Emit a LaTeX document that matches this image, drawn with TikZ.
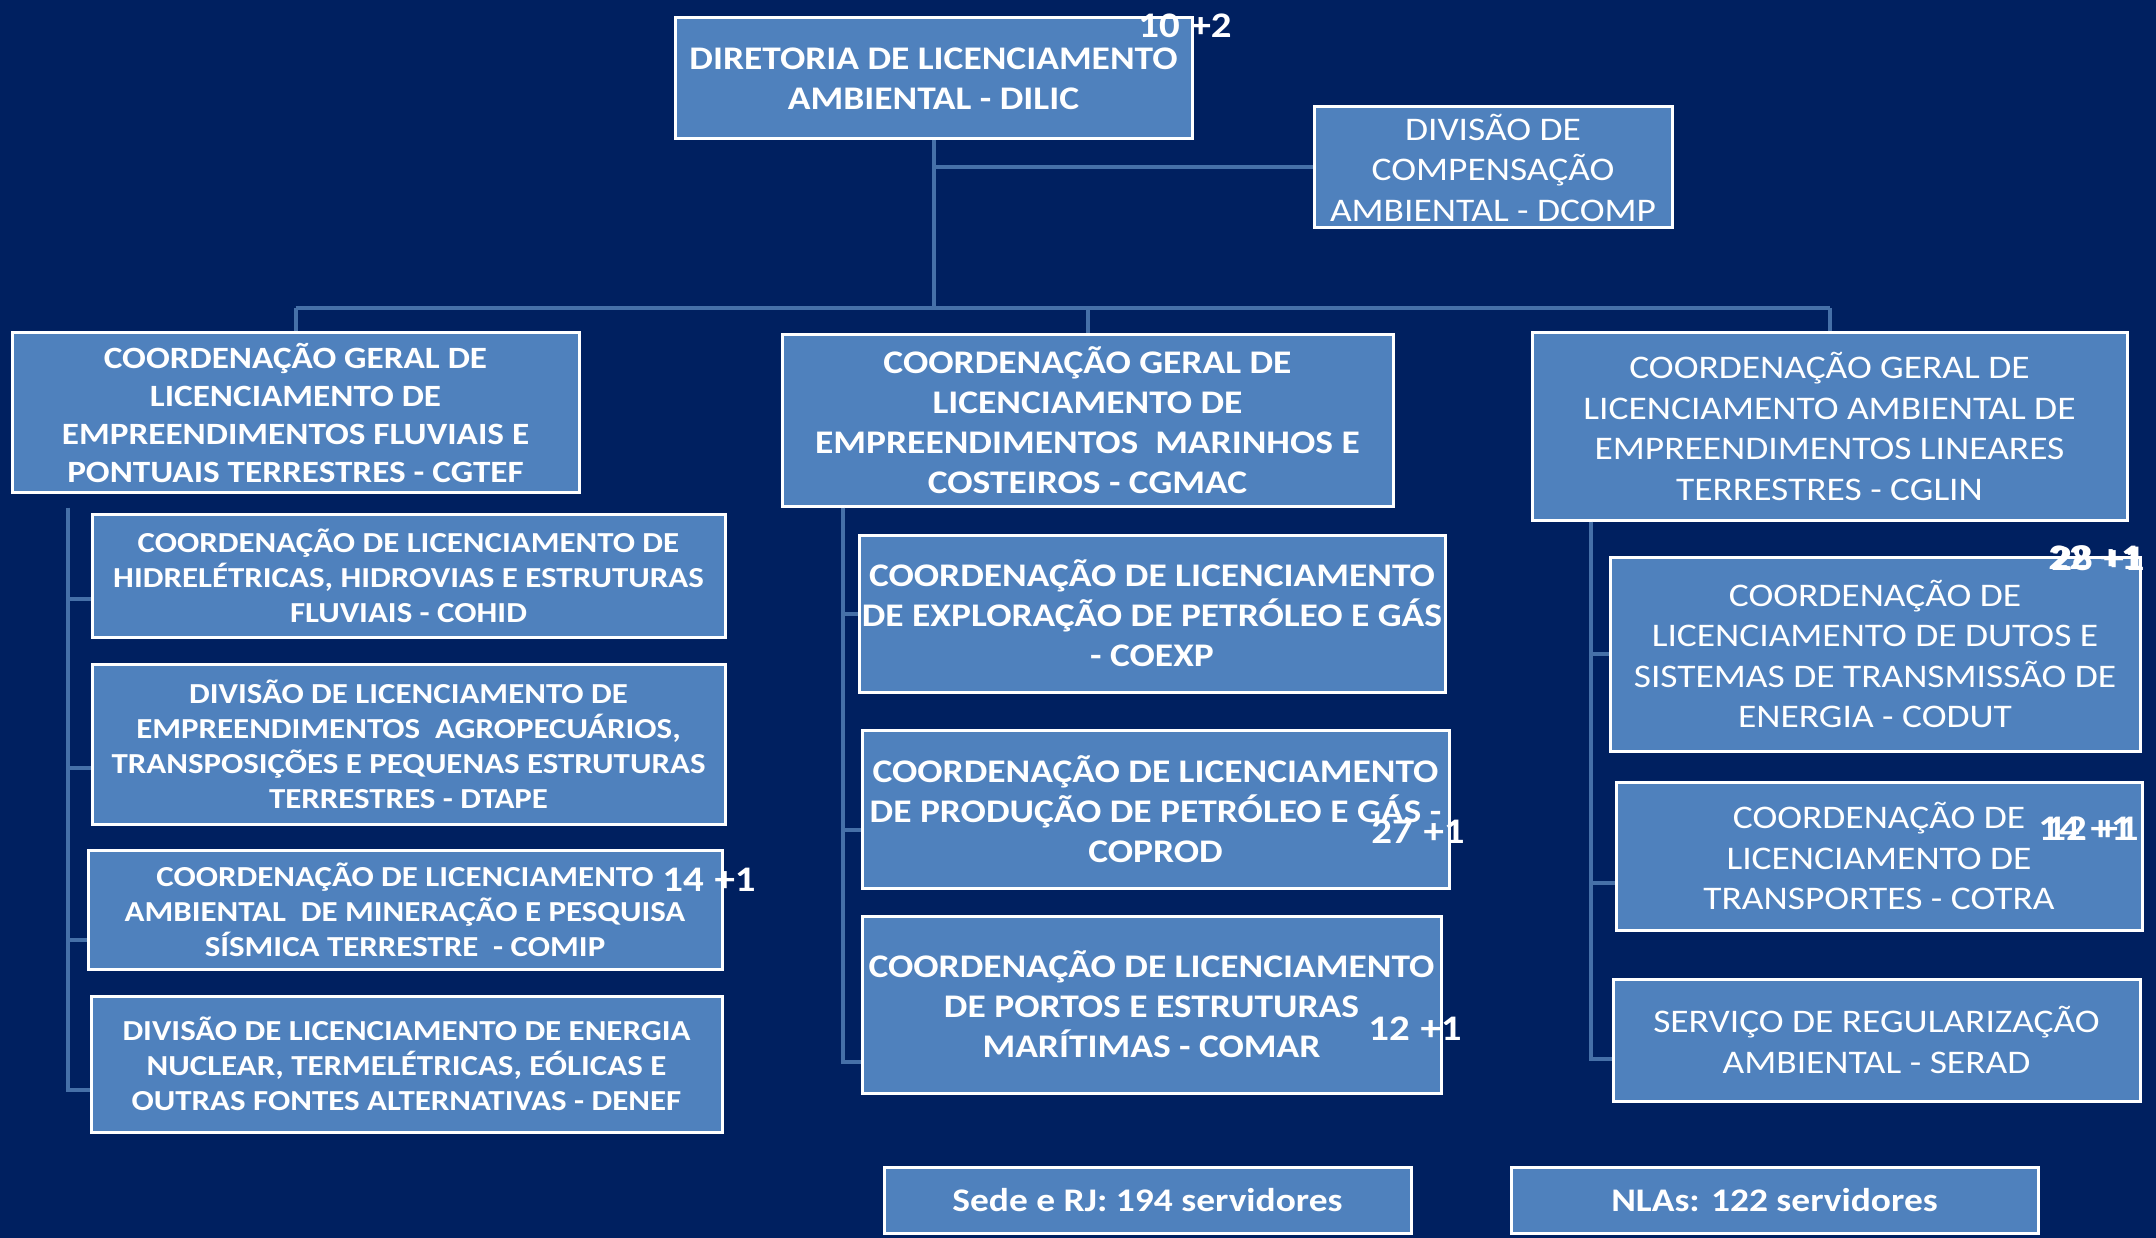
\documentclass[tikz,border=0pt]{standalone}
\usepackage{fontspec}
\setmainfont{Carlito}[FakeStretch=1.135]
\usetikzlibrary{positioning,calc}

\definecolor{bgnavy}{HTML}{002060}
\definecolor{boxblue}{HTML}{4F81BD}
\definecolor{linkblue}{HTML}{4670A8}

\tikzset{
  orgbox/.style={draw=white, line width=3pt, fill=boxblue, text=white,
    align=center, inner sep=0pt},
  bigbold/.style={font=\bfseries\fontsize{33}{40}\selectfont},
  midbold/.style={font=\bfseries\fontsize{31}{38}\selectfont},
  smallbold/.style={font=\bfseries\fontsize{29}{35}\selectfont},
  plain/.style={font=\fontsize{33}{40.5}\selectfont},
  staff/.style={text=white, inner sep=0pt, font=\bfseries\fontsize{36}{36}\selectfont},
  link/.style={draw=linkblue, line width=4pt},
}

\begin{document}
\begin{tikzpicture}[x=1pt, y=-1pt]

\newcommand\SPX{57pt}
\newcommand\NUMGAP{\hspace{.3em}}

\fill[bgnavy] (0,0) rectangle (2156,1238);
\useasboundingbox (0,0) rectangle (2156,1238);

%% top
\node[orgbox, bigbold, minimum width=517pt, minimum height=121pt] (dilic) at (933.5,78.5)
  {DIRETORIA DE LICENCIAMENTO\\AMBIENTAL - DILIC};
\node[orgbox, plain, minimum width=358pt, minimum height=121pt] (dcomp) at (1493,167.5)
  {DIVISÃO DE\\COMPENSAÇÃO\\AMBIENTAL - DCOMP};

%% general coordinations
\node[orgbox, midbold, minimum width=567pt, minimum height=159pt] (cgtef) at (295.5,412.5)
  {COORDENAÇÃO GERAL DE\\LICENCIAMENTO DE\\EMPREENDIMENTOS FLUVIAIS E\\PONTUAIS TERRESTRES - CGTEF};
\node[orgbox, bigbold, minimum width=611pt, minimum height=171pt] (cgmac) at (1087.5,420.5)
  {COORDENAÇÃO GERAL DE\\LICENCIAMENTO DE\\EMPREENDIMENTOS~ MARINHOS E\\COSTEIROS - CGMAC};
\node[orgbox, plain, minimum width=595pt, minimum height=187pt] (cglin) at (1829.5,426.5)
  {COORDENAÇÃO GERAL DE\\LICENCIAMENTO AMBIENTAL DE\\EMPREENDIMENTOS LINEARES\\TERRESTRES - CGLIN};

%% left column
\node[orgbox, smallbold, minimum width=633pt, minimum height=123pt] (cohid) at (408.5,575.5)
  {COORDENAÇÃO DE LICENCIAMENTO DE\\HIDRELÉTRICAS, HIDROVIAS E ESTRUTURAS\\FLUVIAIS - COHID};
\node[orgbox, smallbold, minimum width=633pt, minimum height=160pt] (dtape) at (408.5,744)
  {DIVISÃO DE LICENCIAMENTO DE\\EMPREENDIMENTOS~ AGROPECUÁRIOS,\\TRANSPOSIÇÕES E PEQUENAS ESTRUTURAS\\TERRESTRES - DTAPE};
\node[orgbox, smallbold, minimum width=634pt, minimum height=119pt] (comip) at (405,909.5)
  {COORDENAÇÃO DE LICENCIAMENTO\\AMBIENTAL~ DE MINERAÇÃO E PESQUISA\\SÍSMICA TERRESTRE~ - COMIP};
\node[orgbox, smallbold, minimum width=631pt, minimum height=136pt] (denef) at (406.5,1064)
  {DIVISÃO DE LICENCIAMENTO DE ENERGIA\\NUCLEAR, TERMELÉTRICAS, EÓLICAS E\\OUTRAS FONTES ALTERNATIVAS - DENEF};

%% middle column
\node[orgbox, bigbold, minimum width=586pt, minimum height=157pt] (coexp) at (1152,613.5)
  {COORDENAÇÃO DE LICENCIAMENTO\\DE EXPLORAÇÃO DE PETRÓLEO E GÁS\\- COEXP};
\node[orgbox, bigbold, minimum width=587pt, minimum height=158pt] (coprod) at (1155.5,809)
  {COORDENAÇÃO DE LICENCIAMENTO\\DE PRODUÇÃO DE PETRÓLEO E GÁS -\\COPROD};
\node[orgbox, bigbold, minimum width=579pt, minimum height=177pt] (comar) at (1151.5,1004.5)
  {COORDENAÇÃO DE LICENCIAMENTO\\DE PORTOS E ESTRUTURAS\\MARÍTIMAS - COMAR};

%% right column
\node[orgbox, plain, minimum width=530pt, minimum height=194pt] (codut) at (1875,654)
  {COORDENAÇÃO DE\\LICENCIAMENTO DE DUTOS E\\SISTEMAS DE TRANSMISSÃO DE\\ENERGIA - CODUT};
\node[orgbox, plain, minimum width=526pt, minimum height=148pt] (cotra) at (1879,856)
  {COORDENAÇÃO DE\\LICENCIAMENTO DE\\TRANSPORTES - COTRA};
\node[orgbox, plain, minimum width=527pt, minimum height=122pt] (serad) at (1876.5,1040)
  {SERVIÇO DE REGULARIZAÇÃO\\AMBIENTAL - SERAD};

%% totals
\node[orgbox, bigbold, minimum width=527pt, minimum height=66pt] (sede) at (1147.5,1200)
  {Sede e RJ: 194 servidores};
\node[orgbox, bigbold, minimum width=527pt, minimum height=66pt, right=97pt of sede] (nlas)
  {NLAs: 122 servidores};

%% links from the top
\coordinate (bus) at (0,308);
\draw[link] (dilic.south) -- (dilic.south |- bus);
\draw[link] (dilic.south |- dcomp.west) -- (dcomp.west);
\draw[link] (cgtef.north |- bus) -- (cglin.north |- bus);
\foreach \n in {cgtef, cgmac, cglin}
  \draw[link] (\n.north |- bus) -- (\n.north);

%% spines
\coordinate (spa) at ([xshift=\SPX, yshift=-14pt]cgtef.south west);
\coordinate (spb) at ([xshift=62pt]cgmac.south west);
\coordinate (spc) at ([xshift=60pt]cglin.south west);

\foreach \b/\f in {cohid/.69, dtape/.65, comip/.75, denef/.69,
                   coexp/.50, coprod/.63, comar/.82,
                   codut/.50, cotra/.68, serad/.65}
  \coordinate (t\b) at ($(\b.north west)!\f!(\b.south west)$);

\draw[link] (spa) |- (tdenef);
\draw[link] (spb) |- (tcomar);
\draw[link] (spc) |- (tserad);
\foreach \b in {cohid, dtape, comip}
  \draw[link] (spa |- t\b) -- (t\b);
\foreach \b in {coexp, coprod}
  \draw[link] (spb |- t\b) -- (t\b);
\foreach \b in {codut, cotra}
  \draw[link] (spc |- t\b) -- (t\b);

%% staff numbers
\node[staff] (dilicn) at (1185,26) {10\NUMGAP+2};
\node[staff] (comipn) at (709,880) {14\NUMGAP+1};
\node[staff] (coprodn) at (1418,832) {27\NUMGAP+1};
\node[staff] (comarn) at (1415,1029) {12\NUMGAP+1};
\node[staff] (codutn) at (2095,558) {22\NUMGAP+1};
\node[staff] (codutm) at (2098,558) {28\NUMGAP+1};
\node[staff] (cotran) at (2085,829) {14\NUMGAP+1};
\node[staff] (cotram) at (2092,829) {12\NUMGAP+1};

\end{tikzpicture}
\end{document}
